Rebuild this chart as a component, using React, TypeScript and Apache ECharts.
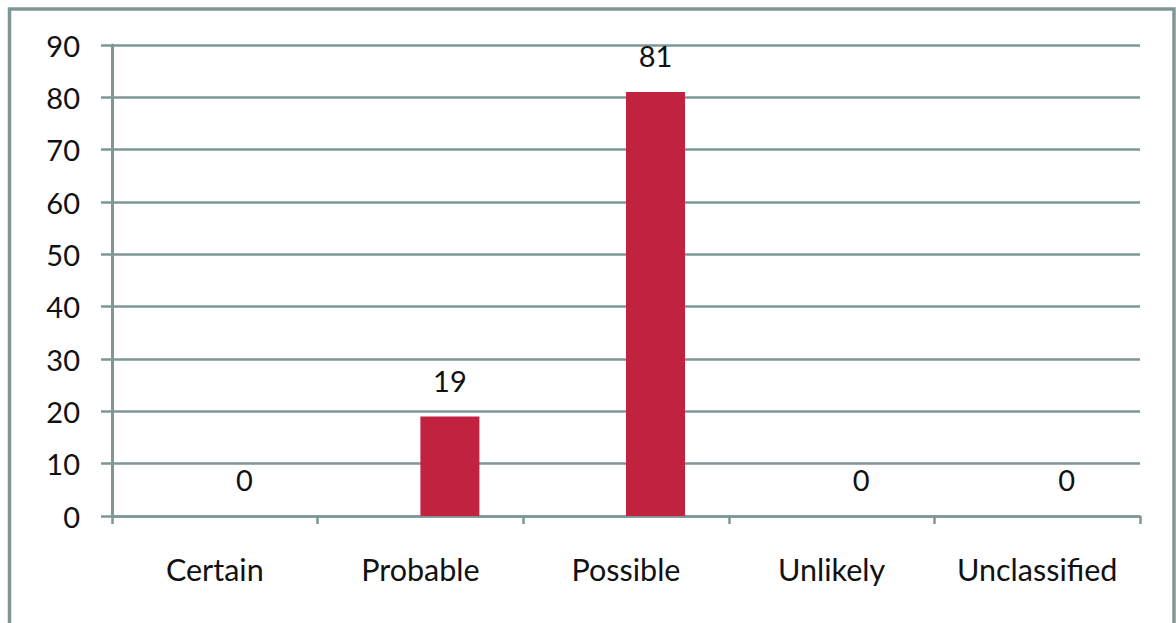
import React, { useEffect, useRef } from "react";
import * as echarts from "echarts";

const categories = ["Certain", "Probable", "Possible", "Unlikely", "Unclassified"];
const hiddenSeries: (number | null)[] = [null, null, null, null, null];
const values = [0, 19, 81, 0, 0];
const yTicks = { min: 0, max: 90, interval: 10 };

const LINE = "#7f9696";
const FONT = "Lato";

export default function App() {
  const ref = useRef<HTMLDivElement>(null);
  useEffect(() => {
    if (!ref.current) return;
    const chart = echarts.init(ref.current, null, { renderer: "svg" });
    chart.setOption({
      animation: false,
      backgroundColor: "#ffffff",
      textStyle: { fontFamily: FONT },
      grid: { left: 112, right: 36, top: 45, bottom: 107, containLabel: false },
      graphic: [
        {
          type: "rect",
          shape: { x: 9.5, y: 9, width: 1164.5, height: 700 },
          style: { fill: "none", stroke: LINE, lineWidth: 3.5 },
          silent: true,
        },
      ],
      xAxis: {
        type: "category",
        data: categories,
        axisLine: { show: true, lineStyle: { color: LINE, width: 2.5 } },
        axisTick: { show: true, interval: 0, length: 8, lineStyle: { color: LINE, width: 2.5 } },
        axisLabel: {
          color: "#111",
          fontSize: 30.5,
          fontFamily: FONT,
          margin: 37,
          interval: 0,
          hideOverlap: false,
        },
        splitLine: { show: false },
      },
      yAxis: {
        type: "value",
        min: yTicks.min,
        max: yTicks.max,
        interval: yTicks.interval,
        axisLine: { show: true, lineStyle: { color: LINE, width: 3 } },
        axisTick: { show: true, length: 11, lineStyle: { color: LINE, width: 2.5 } },
        axisLabel: { color: "#111", fontSize: 29, fontFamily: FONT, margin: 32 },
        splitLine: { show: true, lineStyle: { color: LINE, width: 2.5 } },
      },
      series: [
        {
          type: "bar",
          data: hiddenSeries,
          barWidth: 59,
          barGap: "0%",
          itemStyle: { color: "transparent" },
        },
        {
          type: "bar",
          data: values,
          barWidth: 59,
          barGap: "0%",
          itemStyle: { color: "#c1223f" },
          label: {
            show: true,
            position: "top",
            distance: 22,
            color: "#111",
            fontSize: 29,
            fontFamily: FONT,
          },
        },
      ],
    });
    return () => chart.dispose();
  }, []);
  return (
    <div
      ref={ref}
      style={{ position: "fixed", left: 0, top: 0, width: 1176, height: 623 }}
    />
  );
}
